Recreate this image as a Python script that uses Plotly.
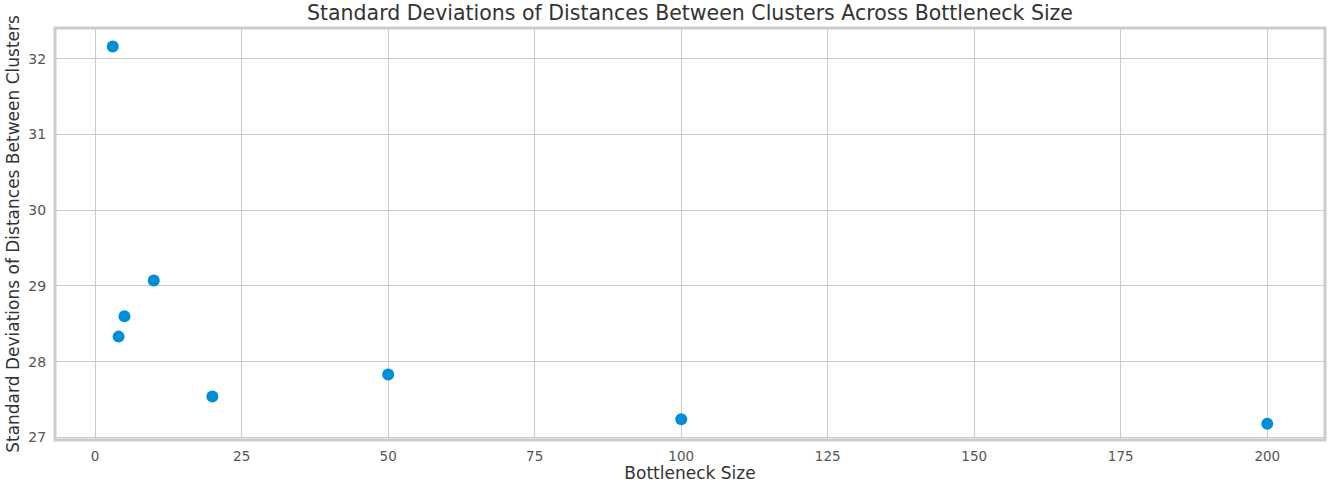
import plotly.graph_objects as go

bottleneck_sizes = [3, 4, 5, 10, 20, 50, 100, 200]
std_distances = [32.16, 28.33, 28.60, 29.07, 27.54, 27.83, 27.24, 27.18]
x_ticks = [0, 25, 50, 75, 100, 125, 150, 175, 200]
y_ticks = [27, 28, 29, 30, 31, 32]

fig = go.Figure()
fig.add_trace(go.Scatter(
    x=bottleneck_sizes, y=std_distances, mode="markers",
    marker=dict(color="#008fd5", size=12, line=dict(width=0)),
    showlegend=False,
))

font = "DejaVu Sans, Liberation Sans, sans-serif"
fig.update_layout(
    width=1328, height=483,
    margin=dict(l=55, r=3, t=28, b=43, autoexpand=False),
    paper_bgcolor="white", plot_bgcolor="white",
    font=dict(family=font, color="#444444"),
    title=dict(text="Standard Deviations of Distances Between Clusters Across Bottleneck Size",
               x=0.5, xref="paper", xanchor="center", y=1 - 13 / 483, yref="container",
               yanchor="middle", automargin=False,
               font=dict(size=20.5, color="#333333", family=font)),
    xaxis=dict(range=[-6.85, 209.85], tickvals=x_ticks, showgrid=True, gridcolor="#cbcbcb",
               gridwidth=1, zeroline=False, ticks="outside", ticklen=4, tickcolor="rgba(0,0,0,0)",
               automargin=False,
               tickfont=dict(size=13.5, color="#555555"),
               title=dict(text="Bottleneck Size", font=dict(size=17, color="#333333"), standoff=8)),
    yaxis=dict(range=[26.965, 32.405], tickvals=y_ticks, showgrid=True, gridcolor="#cbcbcb",
               gridwidth=1, zeroline=False, ticks="outside", ticklen=5, tickcolor="rgba(0,0,0,0)",
               automargin=False,
               tickfont=dict(size=14, color="#555555"),
               title=dict(text="Standard Deviations of Distances Between Clusters",
                          font=dict(size=17, color="#333333"), standoff=4)),
    shapes=[dict(type="rect", xref="paper", yref="paper", x0=0, x1=1, y0=0, y1=1,
                 line=dict(color="#cccccc", width=3), layer="above")],
)

fig.write_html("out.html", config={"displayModeBar": False},
               post_script="document.body.style.margin='0';document.body.style.overflow='hidden';")
